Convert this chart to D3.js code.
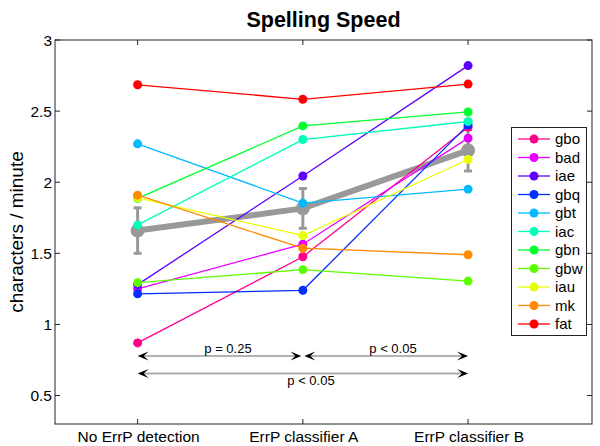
<!DOCTYPE html>
<html>
<head>
<meta charset="utf-8">
<script src="https://cdn.jsdelivr.net/npm/d3@7"></script>
<style>
  body { margin: 0; background: #fff; }
  svg { display: block; font-family: "Liberation Sans", Arial, sans-serif; }
</style>
</head>
<body>
<div id="vis"></div>
<script>
// chart data
const conditions = ["No ErrP detection", "ErrP classifier A", "ErrP classifier B"];
const subjects = ["gbo", "bad", "iae", "gbq", "gbt", "iac", "gbn", "gbw", "iau", "mk", "fat"];
const speedNoErrP = [0.87, 1.25, 1.28, 1.215, 2.27, 1.70, 1.886, 1.294, 1.89, 1.909, 2.685];
const speedClassA = [1.476, 1.564, 2.044, 1.24, 1.853, 2.30, 2.396, 1.385, 1.625, 1.536, 2.583];
const speedClassB = [2.387, 2.31, 2.82, 2.403, 1.951, 2.427, 2.494, 1.305, 2.16, 1.49, 2.69];
const meanSpeed = [1.66, 1.816, 2.224];
const meanError = [0.16, 0.14, 0.145];
const yTicks = [0.5, 1, 1.5, 2, 2.5, 3];
const comparisonFrom = [0, 1, 0];
const comparisonTo = [1, 2, 2];
const comparisonLabel = ["p = 0.25", "p < 0.05", "p < 0.05"];

const width = 600, height = 446;
const margin = { top: 40, right: 8, bottom: 22, left: 55 };

const svg = d3.select("#vis")
    .append("svg")
    .attr("width", width)
    .attr("height", height);

const x = d3.scaleLinear()
    .domain([0.5, 3.75])
    .range([margin.left, width - margin.right]);

const y = d3.scaleLinear()
    .domain([0.3, 3])
    .range([height - margin.bottom, margin.top]);

const color = i => d3.hsl((subjects.length - 1 - i) * 360 / subjects.length, 1, 0.5).formatHex();

const series = subjects.map((s, i) => ({
    name: s,
    i,
    values: [speedNoErrP[i], speedClassA[i], speedClassB[i]]
}));

// title
svg.append("text")
    .attr("x", (x.range()[0] + x.range()[1]) / 2)
    .attr("y", 27)
    .attr("text-anchor", "middle")
    .attr("font-weight", "bold")
    .attr("font-size", 21.5)
    .text("Spelling Speed");

// y label
svg.append("text")
    .attr("transform", `translate(23,${(y.range()[0] + y.range()[1]) / 2}) rotate(-90)`)
    .attr("text-anchor", "middle")
    .attr("font-size", 19)
    .text("characters / minute");

// box + ticks
const x0 = x.range()[0], x1 = x.range()[1], yb = y.range()[0], yt = y.range()[1];
svg.append("rect")
    .attr("x", x0).attr("y", yt)
    .attr("width", x1 - x0).attr("height", yb - yt)
    .attr("fill", "none").attr("stroke", "#222").attr("stroke-width", 1);

const tk = 5;
yTicks.forEach(t => {
    svg.append("line").attr("x1", x0).attr("x2", x0 + tk).attr("y1", y(t)).attr("y2", y(t)).attr("stroke", "#222");
    svg.append("line").attr("x1", x1).attr("x2", x1 - tk).attr("y1", y(t)).attr("y2", y(t)).attr("stroke", "#222");
    svg.append("text")
        .attr("x", x0 - 3).attr("y", y(t)).attr("dy", "0.36em")
        .attr("text-anchor", "end").attr("font-size", 15.5)
        .text(t);
});

conditions.forEach((c, k) => {
    const cx = x(k + 1);
    svg.append("line").attr("x1", cx).attr("x2", cx).attr("y1", yb).attr("y2", yb - tk).attr("stroke", "#222");
    svg.append("line").attr("x1", cx).attr("x2", cx).attr("y1", yt).attr("y2", yt + tk).attr("stroke", "#222");
    svg.append("text")
        .attr("x", cx + 1).attr("y", 442)
        .attr("text-anchor", "middle").attr("font-size", 15.5)
        .text(c);
});

// mean with error bars
const gray = "#999";
const meanLine = d3.line().x((d, k) => x(k + 1)).y(d => y(d));
svg.append("path")
    .attr("d", meanLine(meanSpeed))
    .attr("fill", "none").attr("stroke", gray).attr("stroke-width", 6);

meanSpeed.forEach((m, k) => {
    const cx = x(k + 1);
    const e = meanError[k];
    svg.append("line").attr("x1", cx).attr("x2", cx).attr("y1", y(m - e)).attr("y2", y(m + e))
        .attr("stroke", gray).attr("stroke-width", 3);
    [m - e, m + e].forEach(v => {
        svg.append("line").attr("x1", cx - 4).attr("x2", cx + 4).attr("y1", y(v)).attr("y2", y(v))
            .attr("stroke", gray).attr("stroke-width", 3);
    });
    svg.append("circle").attr("cx", cx).attr("cy", y(m)).attr("r", 7).attr("fill", gray);
});

// subject lines
const line = d3.line().x((d, k) => x(k + 1)).y(d => y(d));
const g = svg.selectAll("g.subj")
    .data(series)
    .join("g")
    .attr("class", "subj");

g.append("path")
    .attr("d", d => line(d.values))
    .attr("fill", "none")
    .attr("stroke", d => color(d.i))
    .attr("stroke-width", 1.3);

g.selectAll("circle")
    .data(d => d.values.map((v, k) => ({ v, k, i: d.i })))
    .join("circle")
    .attr("cx", d => x(d.k + 1))
    .attr("cy", d => y(d.v))
    .attr("r", 4.5)
    .attr("fill", d => color(d.i));

// significance arrows
function head(px, py, dir) {
    const L = 11, W = 4.5, N = 6;
    return `M${px},${py} L${px - dir * L},${py - W} L${px - dir * N},${py} L${px - dir * L},${py + W} Z`;
}
const rowY = [356, 356, 373.5];
const rowColor = ["#666", "#666", "#aaa"];
const rowWidth = [1.2, 1.2, 2];
const labelY = [353, 353, 385];
const labelX = [228, 393, 311];
comparisonLabel.forEach((lab, j) => {
    const a = x(comparisonFrom[j] + 1) + (comparisonFrom[j] === 1 ? 1.5 : 0);
    const b = x(comparisonTo[j] + 1) - (comparisonTo[j] === 1 ? 1.5 : 0);
    const yy = rowY[j];
    svg.append("line").attr("x1", a + 4).attr("x2", b - 4).attr("y1", yy).attr("y2", yy)
        .attr("stroke", rowColor[j]).attr("stroke-width", rowWidth[j]);
    svg.append("path").attr("d", head(a, yy, -1)).attr("fill", "#000");
    svg.append("path").attr("d", head(b, yy, 1)).attr("fill", "#000");
    svg.append("text")
        .attr("x", labelX[j]).attr("y", labelY[j])
        .attr("text-anchor", "middle").attr("font-size", 13)
        .text(lab);
});

// legend
const lg = svg.append("g");
lg.append("rect")
    .attr("x", 511.5).attr("y", 127.5)
    .attr("width", 75).attr("height", 208)
    .attr("fill", "#fff").attr("stroke", "#222");
series.forEach(d => {
    const ly = 139 + d.i * 18.5;
    lg.append("line").attr("x1", 518).attr("x2", 550).attr("y1", ly).attr("y2", ly)
        .attr("stroke", color(d.i)).attr("stroke-width", 1.3);
    lg.append("circle").attr("cx", 534).attr("cy", ly).attr("r", 4.5).attr("fill", color(d.i));
    lg.append("text").attr("x", 555).attr("y", ly).attr("dy", "0.36em")
        .attr("font-size", 15).text(d.name);
});
</script>
</body>
</html>
